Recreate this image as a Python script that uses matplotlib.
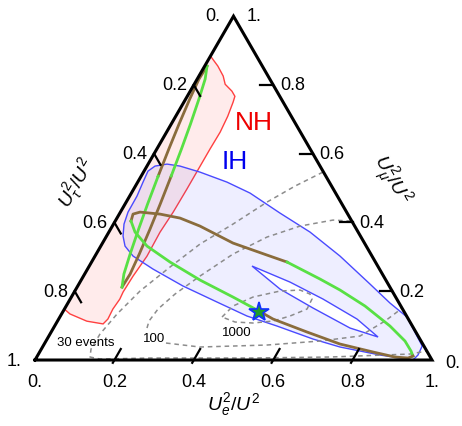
import numpy as np
import matplotlib
matplotlib.use("Agg")
import matplotlib.pyplot as plt
from matplotlib.path import Path
from matplotlib.patches import PathPatch, Polygon

plt.rcParams["font.family"] = ["Liberation Sans", "DejaVu Sans"]
plt.rcParams["mathtext.fontset"] = "custom"
plt.rcParams["mathtext.rm"] = "Liberation Sans"
plt.rcParams["mathtext.it"] = "Liberation Sans:italic"

# ternary coordinates: e = U_e^2/U^2 (bottom), mu = U_mu^2/U^2 (right), tau = 1 - e - mu
# NH allowed region (bounded by the e = 0 edge)
nh_e = [0.0, 0.033, 0.061, 0.078, 0.105, 0.120, 0.124, 0.131, 0.135, 0.134, 0.134, 0.134,
        0.133, 0.129, 0.131, 0.125, 0.123, 0.125, 0.122, 0.124, 0.119, 0.074, 0.021, 0.0]
nh_mu = [0.884, 0.855, 0.826, 0.802, 0.782, 0.767, 0.750, 0.709, 0.663, 0.613, 0.564, 0.497,
         0.430, 0.372, 0.302, 0.244, 0.198, 0.177, 0.148, 0.119, 0.105, 0.113, 0.134, 0.148]

# IH allowed region, outer boundary and inner hole
ih_e = [0.0415, 0.0265, 0.0192, 0.0185, 0.0134, 0.0099, 0.0203, 0.0476, 0.0833, 0.1423, 0.2249,
        0.2989, 0.4035, 0.5067, 0.6171, 0.7334, 0.8113, 0.8746, 0.955, 0.9575, 0.952, 0.9165,
        0.8618, 0.7494, 0.6698, 0.5602, 0.4701, 0.3742, 0.2653, 0.1650, 0.0958, 0.0610]
ih_mu = [0.3605, 0.3954, 0.4302, 0.4767, 0.5174, 0.5494, 0.5640, 0.5698, 0.5640, 0.5465, 0.5174,
         0.4855, 0.4273, 0.3721, 0.3023, 0.2209, 0.1657, 0.1250, 0.0407, 0.0145, 0.0, 0.0058,
         0.0145, 0.0378, 0.0610, 0.0988, 0.1279, 0.1686, 0.2151, 0.2645, 0.3023, 0.3314]
hole_e = [0.4100, 0.5289, 0.6368, 0.7515, 0.8306, 0.7470, 0.6247, 0.5140]
hole_mu = [0.2733, 0.2267, 0.1773, 0.1192, 0.0669, 0.0930, 0.1512, 0.2064]

# NH thin ellipse (two arcs, top tip -> bottom tip)
nhl_e = [0.006, 0.0045, 0.0103, 0.0197, 0.0303, 0.0428, 0.0568, 0.0706, 0.0855, 0.0989, 0.1131]
nhr_e = [0.006, 0.0201, 0.0335, 0.0485, 0.0621, 0.0756, 0.0886, 0.0993, 0.1086, 0.1146, 0.1131]
nh_arc_mu = [0.8547, 0.8169, 0.7587, 0.6861, 0.6134, 0.5349, 0.4535, 0.3808, 0.3081, 0.2500, 0.2122]

# IH ellipse (upper and lower arcs, left tip -> right tip)
ihu_e = [0.0398, 0.0347, 0.0494, 0.1027, 0.1589, 0.2208, 0.3287, 0.4318, 0.4924, 0.6002,
         0.6666, 0.7528, 0.8448, 0.9044, 0.9340, 0.9464]
ihu_mu = [0.4041, 0.4244, 0.4302, 0.4244, 0.4128, 0.3895, 0.3401, 0.3052, 0.2849, 0.2355,
          0.2035, 0.1570, 0.0988, 0.0552, 0.0262, 0.0116]
ihl_e = [0.0398, 0.0659, 0.1164, 0.1977, 0.2993, 0.4072, 0.4931, 0.5399, 0.6445, 0.7450,
         0.8398, 0.9024, 0.9367, 0.9464]
ihl_mu = [0.4041, 0.3721, 0.3314, 0.2849, 0.2326, 0.1831, 0.1424, 0.1192, 0.0814, 0.0465,
          0.0233, 0.0087, 0.0058, 0.0116]

# event-number contours
c30_e = [0.452, 0.4020, 0.3547, 0.3011, 0.2470, 0.2049, 0.1642, 0.1397, 0.1259, 0.1251, 0.1342,
         0.1623, 0.2868, 0.5387, 0.7387, 0.9359, 0.974]
c30_mu = [0.5465, 0.5058, 0.4593, 0.3954, 0.3372, 0.2704, 0.2006, 0.1337, 0.0756, 0.0320, 0.0087,
          0.0029, 0.0058, 0.0058, 0.0087, 0.0174, 0.0262]
c100a_e = [0.594, 0.5472, 0.4727, 0.4056, 0.3447, 0.2935, 0.2568, 0.2357, 0.2305, 0.2356]
c100a_mu = [0.4041, 0.4070, 0.3895, 0.3576, 0.3081, 0.2442, 0.1919, 0.1483, 0.1134, 0.0930]
c100b_e = [0.3053, 0.3510, 0.3967, 0.5626, 0.6903, 0.7838, 0.8250, 0.8421, 0.8488]
c100b_mu = [0.0494, 0.0436, 0.0378, 0.0436, 0.0552, 0.0698, 0.1134, 0.1395, 0.1512]
c1000_e = [0.4086, 0.4203, 0.4575, 0.5169, 0.5658, 0.5968, 0.6091, 0.6111, 0.5783, 0.5428,
           0.4953, 0.4486, 0.4086]
c1000_mu = [0.1250, 0.1570, 0.1831, 0.2006, 0.2035, 0.1919, 0.1773, 0.1483, 0.1279, 0.1134,
            0.1076, 0.1105, 0.1250]

best_fit = (0.495, 0.14)
tick_vals = [0.2, 0.4, 0.6, 0.8]

SQ3 = np.sqrt(3) / 2
BROWN = "#8a6c3c"
GREEN = "#58e044"


def tern(e, mu):
    e = np.asarray(e, float)
    mu = np.asarray(mu, float)
    return e + 0.5 * mu, SQ3 * mu


fig = plt.figure(figsize=(4.62, 4.27), dpi=100)
ax = fig.add_axes([0, 0, 1, 1])
ax.set_xlim(-0.0882, 1.0756)
ax.set_ylim(-0.1662, 0.9093)
ax.axis("off")

# regions
x, y = tern(nh_e, nh_mu)
ax.add_patch(Polygon(np.column_stack([x, y]), closed=True, facecolor=(1, 0, 0, 0.08),
                     edgecolor="#ff4040", lw=1.0, zorder=1))

xo, yo = tern(ih_e, ih_mu)
xh, yh = tern(hole_e, hole_mu)
outer = np.column_stack([xo, yo])
inner = np.column_stack([xh, yh])[::-1]
verts = np.vstack([outer, outer[:1], inner, inner[:1]])
codes = ([Path.MOVETO] + [Path.LINETO] * (len(outer) - 1) + [Path.CLOSEPOLY]
         + [Path.MOVETO] + [Path.LINETO] * (len(inner) - 1) + [Path.CLOSEPOLY])
ax.add_patch(PathPatch(Path(verts, codes), facecolor=(0.3, 0.3, 1, 0.09),
                       edgecolor="#4a4aff", lw=1.0, zorder=1.5))

# event contours
dash = dict(color="#8c8c8c", lw=1.1, ls=(0, (3, 2.5)), zorder=2)
for ce, cm in [(c30_e, c30_mu), (c100a_e, c100a_mu), (c100b_e, c100b_mu), (c1000_e, c1000_mu)]:
    ax.plot(*tern(ce, cm), **dash)

# ellipses
lw = 2.0
ax.plot(*tern(nhl_e[:6], nh_arc_mu[:6]), color=BROWN, lw=lw, zorder=3)
ax.plot(*tern(nhr_e[5:], nh_arc_mu[5:]), color=BROWN, lw=lw, zorder=3)
ax.plot(*tern(nhr_e[:6], nh_arc_mu[:6]), color=GREEN, lw=lw, zorder=3)
ax.plot(*tern(nhl_e[5:], nh_arc_mu[5:]), color=GREEN, lw=lw, zorder=3)
ax.plot(*tern(ihu_e[:9], ihu_mu[:9]), color=BROWN, lw=lw, zorder=3)
ax.plot(*tern(ihu_e[8:], ihu_mu[8:]), color=GREEN, lw=lw, zorder=3)
ax.plot(*tern(ihl_e[:7], ihl_mu[:7]), color=GREEN, lw=lw, zorder=3)
ax.plot(*tern(ihl_e[6:], ihl_mu[6:]), color=BROWN, lw=lw, zorder=3)

ax.plot(*tern([best_fit[0]], [best_fit[1]]), marker="*", ms=15, mfc="#1f9e2a", mec="#1030ff",
        mew=1.2, ls="none", zorder=6)

# triangle frame
ax.plot([0, 1, 0.5, 0], [0, 0, SQ3, 0], color="k", lw=2.2, solid_joinstyle="miter", zorder=5)

tl = 0.032
fs = 13
for v in tick_vals:
    # bottom axis (e)
    bx, by = v, 0.0
    ax.plot([bx - 0.004, bx + tl * 0.5], [by - 0.007, by + tl * SQ3], color="k", lw=1.6, zorder=5)
    ax.text(bx, -0.055, f"{v:.1f}", ha="center", va="center", fontsize=fs)
    # right axis (mu)
    rx, ry = tern(1 - v, v)
    ax.plot([rx, rx - tl], [ry, ry], color="k", lw=1.6, zorder=5)
    ax.text(rx + 0.017, ry, f"{v:.1f}", ha="left", va="center", fontsize=fs)
    # left axis (tau)
    lx, ly = tern(0.0, 1 - v)
    ax.plot([lx, lx + tl * 0.5], [ly, ly - tl * SQ3], color="k", lw=1.6, zorder=5)
    ax.text(lx - 0.017, ly, f"{v:.1f}", ha="right", va="center", fontsize=fs)

ax.text(0.0, -0.055, "0.", ha="center", va="center", fontsize=fs)
ax.text(1.0, -0.055, "1.", ha="center", va="center", fontsize=fs)
ax.text(1.033, -0.006, "0.", ha="left", va="center", fontsize=fs)
ax.text(0.534, 0.868, "1.", ha="left", va="center", fontsize=fs)
ax.text(0.466, 0.869, "0.", ha="right", va="center", fontsize=fs)
ax.text(-0.033, 0.0, "1.", ha="right", va="center", fontsize=fs)

ax.text(0.5, -0.11, r"$U_e^2/U^2$", ha="center", va="center", fontsize=14)
ax.text(0.106, 0.448, r"$U_\tau^2/U^2$", ha="center", va="center", fontsize=14, rotation=60)
ax.text(0.894, 0.456, r"$U_\mu^2/U^2$", ha="center", va="center", fontsize=14, rotation=-60)

ax.text(0.5516, 0.5995, "NH", color="#ee0000", ha="center", va="center", fontsize=19)
ax.text(0.5025, 0.5013, "IH", color="#0000ee", ha="center", va="center", fontsize=19)

ax.text(0.128, 0.045, "30 events", ha="center", va="center", fontsize=9.5)
ax.text(0.300, 0.055, "100", ha="center", va="center", fontsize=9.5)
ax.text(0.509, 0.070, "1000", ha="center", va="center", fontsize=9.5)

fig.savefig("out.png", dpi=100)
